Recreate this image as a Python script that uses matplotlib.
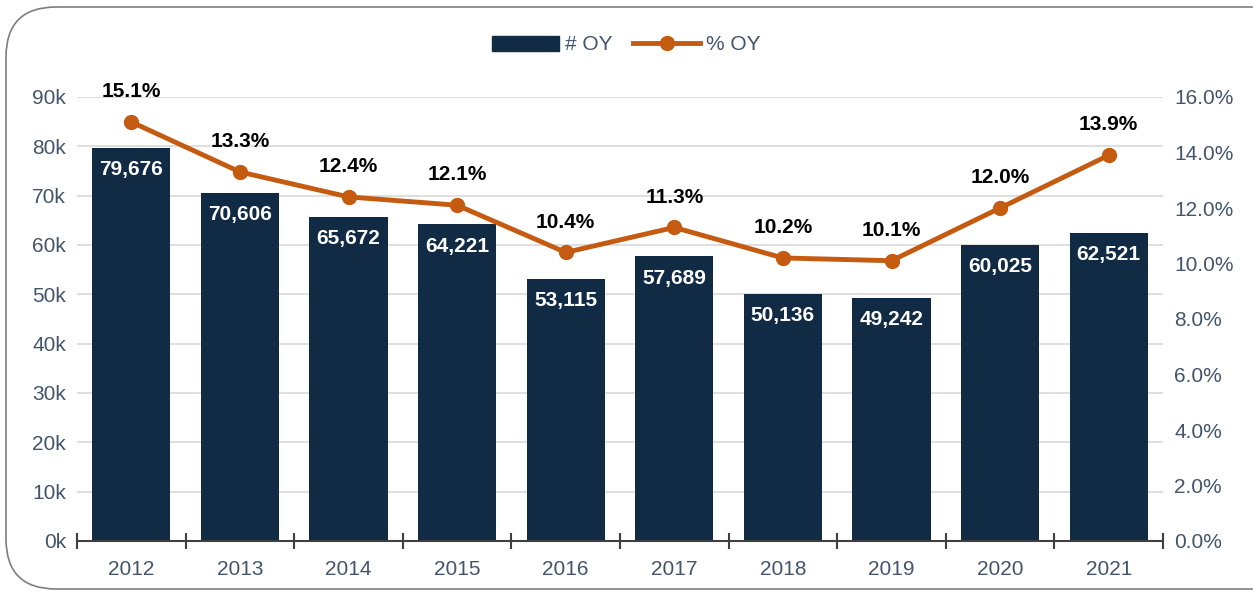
import matplotlib.pyplot as plt
from matplotlib.patches import FancyBboxPatch
from matplotlib.lines import Line2D
from matplotlib.patches import Patch
from matplotlib.ticker import FuncFormatter

plt.rcParams['font.family'] = ['Liberation Sans Narrow', 'Liberation Sans', 'DejaVu Sans']

years = ['2012', '2013', '2014', '2015', '2016', '2017', '2018', '2019', '2020', '2021']
oy_count = [79676, 70606, 65672, 64221, 53115, 57689, 50136, 49242, 60025, 62521]
oy_pct = [15.1, 13.3, 12.4, 12.1, 10.4, 11.3, 10.2, 10.1, 12.0, 13.9]

bar_color = '#112B45'
line_color = '#C55A11'
tick_color = '#44546A'

fig = plt.figure(figsize=(12.53, 5.95), dpi=100)
ax = fig.add_axes([77 / 1253, 54 / 595, 1086 / 1253, 444 / 595])
ax2 = ax.twinx()

x = range(len(years))
ax.bar(x, oy_count, width=0.72, color=bar_color, zorder=2)
ax.set_ylim(0, 90000)
ax.set_xlim(-0.5, len(years) - 0.5)
ax.set_yticks(range(0, 90001, 10000))
ax.yaxis.set_major_formatter(FuncFormatter(lambda v, p: f'{int(v / 1000)}k'))
ax.grid(axis='y', color='#D9D9D9', linewidth=1.2, zorder=0)
ax.set_axisbelow(True)

for i, v in enumerate(oy_count):
    ax.text(i, v - 2500, f'{v:,}', ha='center', va='top', color='white',
            fontsize=15, fontweight='bold', zorder=4)

ax2.plot(x, oy_pct, color=line_color, linewidth=3.5, marker='o', markersize=10, zorder=5)
ax2.set_ylim(0, 16)
ax2.set_yticks(range(0, 17, 2))
ax2.yaxis.set_major_formatter(FuncFormatter(lambda v, p: f'{v:.1f}%'))
for i, v in enumerate(oy_pct):
    ax2.text(i, v + 0.75, f'{v:.1f}%', ha='center', va='bottom', color='black',
             fontsize=15, fontweight='bold')

for a in (ax, ax2):
    for s in ['top', 'right', 'left']:
        a.spines[s].set_visible(False)
    a.tick_params(axis='y', length=0, labelsize=15, labelcolor=tick_color, pad=8)
ax2.spines['bottom'].set_visible(False)
ax.spines['bottom'].set_color('#404040')
ax.spines['bottom'].set_linewidth(1.5)

# category separators as major ticks, year labels as minor ticks
ax.set_xticks([i - 0.5 for i in range(len(years) + 1)], minor=False)
ax.set_xticklabels([])
ax.tick_params(axis='x', direction='inout', length=12, width=1.5, color='#404040')
ax.set_xticks(list(x), minor=True)
ax.set_xticklabels(years, minor=True)
ax.tick_params(axis='x', which='minor', length=0, labelsize=15, labelcolor=tick_color, pad=14)

handles = [Patch(color=bar_color, label='# OY'),
           Line2D([0], [0], color=line_color, linewidth=3.5, marker='o', markersize=10, label='% OY')]
fig.legend(handles=handles, loc='center', bbox_to_anchor=(0.5, 1 - 45 / 595), ncol=2,
           frameon=False, fontsize=15, labelcolor=tick_color, handlelength=3.2,
           handletextpad=0.3, columnspacing=1.0)

# rounded outer frame, cut off on the right like the original
frame = FancyBboxPatch((6 / 1253, 6 / 595), 1400 / 1253, 582 / 595,
                       boxstyle='round,pad=0,rounding_size=0.04',
                       transform=fig.transFigure, fill=False, edgecolor='#7F7F7F',
                       linewidth=1.2, mutation_aspect=1253 / 595)
fig.patches.append(frame)

fig.savefig('out.png', dpi=100)
